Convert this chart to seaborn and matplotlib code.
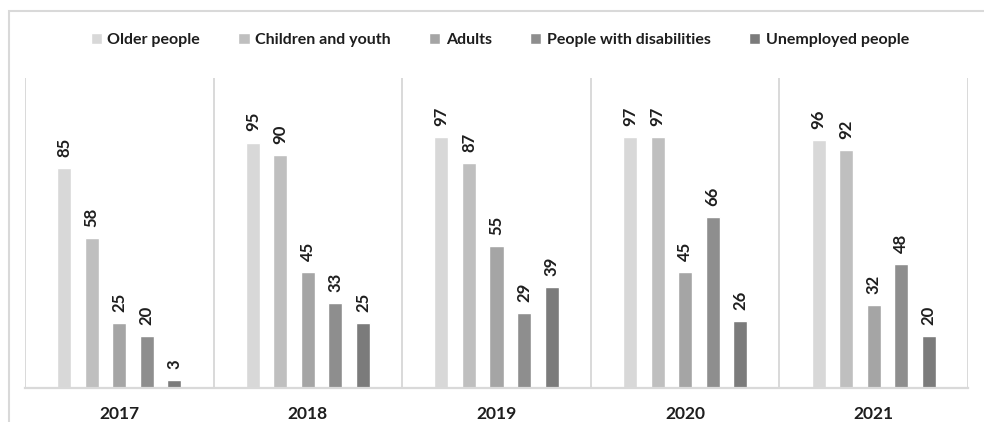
import matplotlib
matplotlib.use("Agg")
import matplotlib.pyplot as plt
from matplotlib.patches import Rectangle
import seaborn as sns
import pandas as pd

years = ["2017", "2018", "2019", "2020", "2021"]
groups = ["Older people", "Children and youth", "Adults",
          "People with disabilities", "Unemployed people"]
older = [85, 95, 97, 97, 96]
children = [58, 90, 87, 97, 92]
adults = [25, 45, 55, 45, 32]
disabilities = [20, 33, 29, 66, 48]
unemployed = [3, 25, 39, 26, 20]
colors = ["#d8d8d8", "#bfbfbf", "#a5a5a5", "#8e8e8e", "#7b7b7b"]

series = [older, children, adults, disabilities, unemployed]
rows = []
for g, vals in zip(groups, series):
    for y, v in zip(years, vals):
        rows.append({"year": y, "group": g, "value": v})
df = pd.DataFrame(rows)

sns.set_style("white")
plt.rcParams["font.family"] = ["Lato", "DejaVu Sans"]
text_color = "#1e1e1e"
line_color = "#d9d9d9"

fig = plt.figure(figsize=(9.84, 4.22), dpi=100)
ax = fig.add_axes([25 / 984, 1 - 388 / 422, (968 - 25) / 984, (388 - 78) / 422])

sns.barplot(data=df, x="year", y="value", hue="group", hue_order=groups,
            order=years, palette=colors, width=0.73, gap=0.49,
            saturation=1, ax=ax, legend=True)

for cont in ax.containers:
    ax.bar_label(cont, padding=8, rotation=90, fontsize=12,
                 fontweight="bold", color=text_color)

ax.set_xlim(-0.5, len(years) - 0.5)
ax.set_ylim(0, 120)
ax.set_yticks([])
ax.set_xlabel("")
ax.set_ylabel("")
for i in range(len(years) + 1):
    ax.axvline(i - 0.5, color=line_color, lw=1.4, zorder=0)
for side in ["top", "left", "right"]:
    ax.spines[side].set_visible(False)
ax.spines["bottom"].set_color(line_color)
ax.spines["bottom"].set_linewidth(1.6)
ax.tick_params(axis="x", length=0, pad=13, labelsize=12.5, labelcolor=text_color)
for lbl in ax.get_xticklabels():
    lbl.set_fontweight("bold")

handles, labels = ax.get_legend_handles_labels()
ax.get_legend().remove()
fig.legend(handles, labels, loc="center", ncol=5, bbox_to_anchor=(0.508, 0.905),
           frameon=False, handlelength=0.7, handleheight=0.7, handletextpad=0.35,
           columnspacing=2.4, prop={"weight": "bold", "size": 11.5},
           labelcolor=text_color)

# chart area frame
fig.add_artist(Rectangle((8.5 / 984, -0.1), 1.2, 1 - 11 / 422 + 0.1,
                         transform=fig.transFigure, fill=False,
                         edgecolor=line_color, lw=1.5))

fig.savefig("out.png", dpi=100)
